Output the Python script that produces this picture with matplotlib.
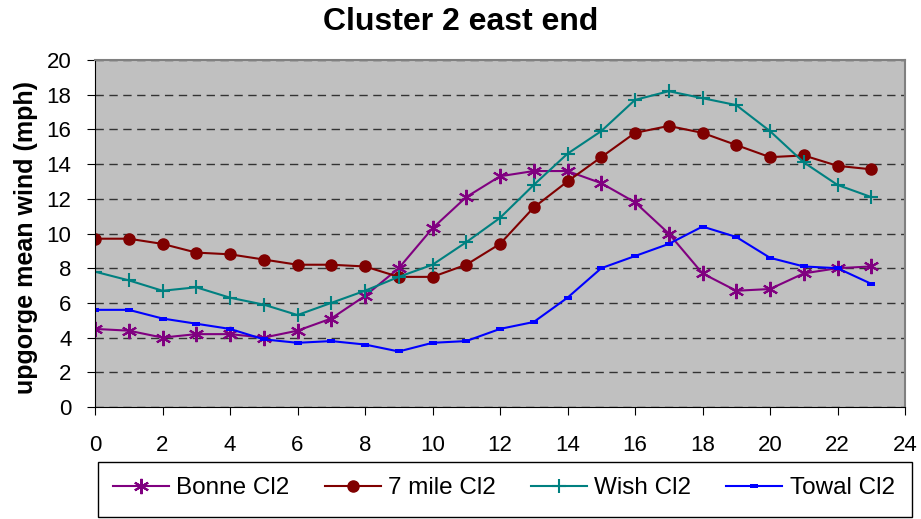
import matplotlib
matplotlib.use("Agg")
import matplotlib.pyplot as plt
from matplotlib.patches import Rectangle

hours = list(range(24))
bonne = [4.5, 4.4, 4.0, 4.2, 4.2, 4.0, 4.4, 5.1, 6.4, 8.0, 10.3, 12.1,
         13.3, 13.6, 13.6, 12.9, 11.8, 10.0, 7.7, 6.7, 6.8, 7.7, 8.0, 8.1]
seven_mile = [9.7, 9.7, 9.4, 8.9, 8.8, 8.5, 8.2, 8.2, 8.1, 7.5, 7.5, 8.2,
              9.4, 11.5, 13.0, 14.4, 15.8, 16.2, 15.8, 15.1, 14.4, 14.5, 13.9, 13.7]
wish = [7.8, 7.3, 6.7, 6.9, 6.3, 5.9, 5.3, 6.0, 6.7, 7.5, 8.2, 9.5,
        10.9, 12.8, 14.6, 15.9, 17.7, 18.2, 17.8, 17.4, 15.9, 14.1, 12.8, 12.1]
towal = [5.6, 5.6, 5.1, 4.8, 4.5, 3.9, 3.7, 3.8, 3.6, 3.2, 3.7, 3.8,
         4.5, 4.9, 6.3, 8.0, 8.7, 9.4, 10.4, 9.8, 8.6, 8.1, 8.0, 7.1]

plt.rcParams["font.family"] = ["Liberation Sans", "DejaVu Sans"]

W, H = 921, 519
fig = plt.figure(figsize=(W / 100, H / 100), dpi=100)
ax = fig.add_axes([95 / W, 1 - 407 / H, 810 / W, 347 / H])
ax.set_facecolor("#C0C0C0")

rect_marker = [(-1, -0.5), (1, -0.5), (1, 0.5), (-1, 0.5)]

ax.plot(hours, bonne, color="#800080", marker=(6, 2, 0), markersize=11,
        mew=1.5, lw=1.5, label="Bonne Cl2")
ax.plot(hours, seven_mile, color="#800000", marker="o", markersize=8,
        lw=1.5, label="7 mile Cl2")
ax.plot(hours, wish, color="#008080", marker="+", markersize=10, mew=1.5,
        lw=1.5, label="Wish Cl2")
ax.plot(hours, towal, color="#0000FF", marker=rect_marker, markersize=6,
        markeredgewidth=0, lw=1.5, label="Towal Cl2")

ax.set_xlim(0, 24)
ax.set_ylim(0, 20)
ax.set_xticks(range(0, 25, 2))
ax.set_yticks(range(0, 21, 2))
ax.tick_params(axis="both", labelsize=16, direction="out", length=6)
ax.tick_params(axis="y", pad=11)
ax.tick_params(axis="x", pad=14)
ax.yaxis.grid(True, color="#333333", linestyle=(0, (6, 4)), lw=1)
ax.set_axisbelow(True)
for s in ["top", "right"]:
    ax.spines[s].set_color("#808080")
    ax.spines[s].set_linewidth(1.5)
for s in ["left", "bottom"]:
    ax.spines[s].set_color("black")

fig.text(0.5, 1 - 22 / H, "Cluster 2 east end", fontsize=23,
         fontweight="bold", ha="center", va="center")
fig.text(26 / W, 1 - 238 / H, "upgorge mean wind (mph)", fontsize=18,
         fontweight="bold", rotation=90, ha="center", va="center")

fig.patches.append(Rectangle((98 / W, 1 - 517 / H), 814 / W, 55 / H,
                             transform=fig.transFigure, fill=False,
                             edgecolor="black", lw=1))
fig.legend(loc="center left", bbox_to_anchor=(113 / W, 1 - 488 / H),
           ncol=4, fontsize=17.5, frameon=False, borderpad=0,
           borderaxespad=0, handlelength=2.3, handletextpad=0.3,
           columnspacing=1.45)

fig.savefig("out.png", dpi=100)
plt.close(fig)
